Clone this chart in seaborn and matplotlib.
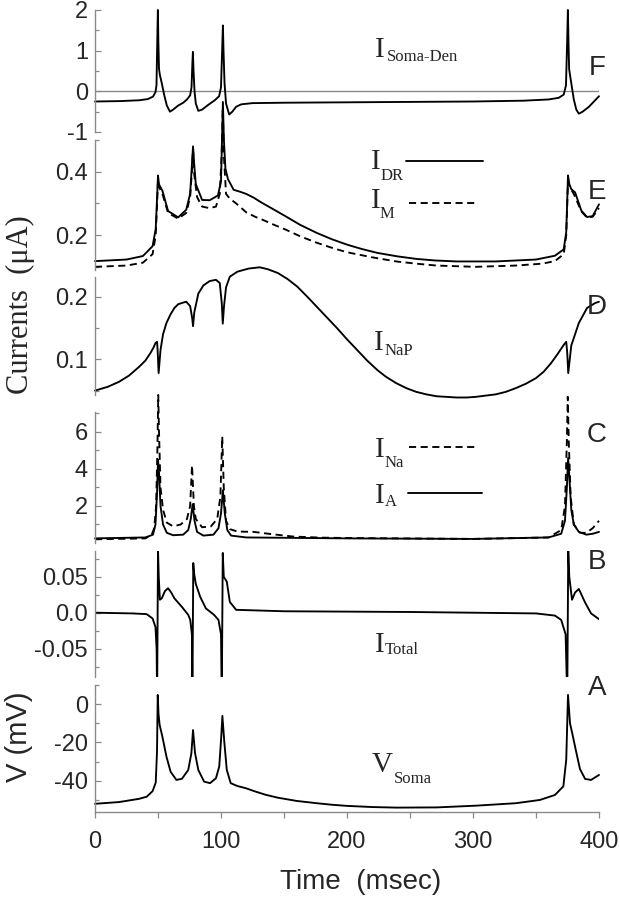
import matplotlib
matplotlib.use("Agg")
import matplotlib.pyplot as plt
from matplotlib.lines import Line2D
import seaborn as sns

# ---------------- data ----------------
# Panel A: somatic voltage (mV)
t_vsoma = [0, 19, 35, 41, 45.7, 48.2, 49.2, 49.8, 50.4, 51.3, 53.5, 56.7, 60, 64.6, 69, 74, 76.5, 77.8,
           79.4, 82, 86.6, 91.3, 96, 98.6, 100.2, 101.1, 102.7, 104.6, 107.7, 113, 120, 126, 135, 145,
           160, 176, 188, 200, 220, 239, 271, 302, 334, 353, 365, 371.7, 374, 375.4, 377, 378.9, 381.7,
           384.9, 389, 393.7, 400]
v_soma = [-52.1, -51.2, -49.5, -48.4, -45.5, -41, -25, 4.9, -5, -10.8, -17, -27.4, -35.3, -39.6, -39, -34.4,
          -25.6, -13.5, -25.6, -34.4, -40.5, -41.3, -38.7, -32.6, -17, -6.1, -20.4, -34.4, -41.3, -42.8,
          -44, -45.4, -47.3, -48.9, -50.6, -51.8, -52.6, -53.2, -53.8, -54.1, -54, -53.1, -51.8, -50.1,
          -47.5, -43, -29, 4.9, -10, -15.6, -24.3, -33.9, -39.1, -39.6, -37]

# Panel B: total current
t_itotal = [0, 30, 41, 45.7, 48, 48.9, 49.3, 50.0, 50.6, 51.5, 53, 55.5, 58, 60.5, 63, 69, 74, 75.6, 76.9,
            77.3, 78.0, 78.6, 80, 83.5, 88, 94.5, 98, 100, 100.6, 101.4, 102.2, 104.6, 107, 112, 150,
            250, 300, 350, 365, 370, 373.5, 374.8, 375.6, 376.4, 378.6, 381, 384, 389, 393.7, 400]
i_total = [0.0, -0.001, -0.002, -0.008, -0.02, -0.05, -0.12, 0.088, 0.05, 0.018, 0.02, 0.03, 0.034, 0.028,
           0.02, 0.008, -0.003, -0.01, -0.03, -0.12, 0.069, 0.055, 0.04, 0.022, 0.006, -0.003, -0.01,
           -0.03, -0.12, 0.083, 0.05, 0.043, 0.015, 0.004, 0.002, 0.001, 0.0, -0.001, -0.004, -0.01,
           -0.03, -0.12, 0.088, 0.05, 0.018, 0.028, 0.033, 0.014, -0.001, -0.009]

# Panel C: I_A (solid) and I_Na (dashed)
t_ia = [0, 40, 46, 48, 49.3, 50, 50.8, 52, 54, 57, 62, 70, 74, 76, 77.5, 79, 81, 86, 94, 98, 100,
        101.5, 103, 105, 108, 120, 200, 300, 360, 370, 373, 374.5, 375.5, 376.5, 378, 380, 384, 390, 395, 400]
i_a = [0.25, 0.3, 0.45, 1.0, 2.8, 4.5, 3.8, 2.0, 1.0, 0.55, 0.42, 0.45, 0.7, 1.3, 2.1, 1.2, 0.6, 0.4,
       0.45, 0.8, 1.6, 2.85, 1.6, 0.7, 0.4, 0.3, 0.25, 0.22, 0.3, 0.5, 1.2, 3.0, 4.6, 3.5, 1.8, 1.0,
       0.6, 0.45, 0.5, 0.6]
t_ina = [0, 40, 45, 47, 48.5, 49.5, 50.2, 50.8, 52, 54, 57, 62, 68, 73, 75.5, 77, 78.5, 80, 85, 92, 97,
         99.5, 101, 102.2, 104, 107, 113, 126, 140, 157, 180, 200, 300, 360, 370, 373, 374.5, 375.2, 376,
         377.5, 380, 385, 390, 395, 400]
i_na = [0.2, 0.25, 0.45, 0.8, 2.0, 5.0, 8.0, 6.0, 3.0, 1.8, 1.1, 0.9, 1.0, 1.3, 2.0, 4.2, 2.0, 1.3, 0.85,
        0.9, 1.3, 2.5, 5.75, 3.0, 1.2, 0.75, 0.62, 0.6, 0.48, 0.35, 0.29, 0.27, 0.22, 0.3, 0.7, 2.0, 5.5,
        7.9, 5.5, 2.5, 1.0, 0.55, 0.55, 0.8, 1.2]

# Panel D: I_NaP
t_inap = [0, 10, 19, 27, 35, 40, 44, 46.5, 48, 49.3, 49.8, 50.5, 52, 54, 56.7, 60, 63, 66, 69, 72.4,
          75.5, 77.2, 77.8, 78.8, 82, 86, 91, 96, 99, 100.6, 101.4, 102.4, 104, 107, 113, 122, 130.7,
          137, 145, 153, 160.6, 168, 176, 184, 192, 200, 208, 216, 224, 231, 239, 247, 255, 263, 271,
          279, 287, 295, 302, 310, 318, 326, 334, 342, 350, 356, 362, 367, 372, 374, 374.8, 375.6, 378,
          384, 390.5, 397, 400]
i_nap = [0.05, 0.056, 0.064, 0.074, 0.088, 0.098, 0.11, 0.119, 0.126, 0.128, 0.11, 0.078, 0.115, 0.14,
         0.158, 0.172, 0.182, 0.188, 0.19, 0.192, 0.185, 0.165, 0.153, 0.175, 0.205, 0.218, 0.225, 0.227,
         0.222, 0.19, 0.157, 0.185, 0.215, 0.232, 0.24, 0.245, 0.247, 0.244, 0.238, 0.228, 0.216, 0.201,
         0.184, 0.167, 0.15, 0.132, 0.115, 0.098, 0.083, 0.072, 0.062, 0.054, 0.048, 0.044, 0.041, 0.04,
         0.039, 0.039, 0.04, 0.042, 0.044, 0.048, 0.054, 0.061, 0.07, 0.08, 0.094, 0.108, 0.123, 0.128,
         0.11, 0.078, 0.122, 0.158, 0.182, 0.19, 0.192]

# Panel E: I_DR (solid) and I_M (dashed)
t_idr = [0, 25, 38, 45.7, 48.2, 49.4, 50, 50.8, 53.5, 58, 66, 72.4, 75.5, 76.9, 77.8, 78.8, 80, 85, 91,
         97.6, 100, 100.8, 101.5, 102.3, 103.5, 105.5, 110, 115, 120, 126, 132, 140, 151, 163, 176, 188,
         200, 212, 224, 240, 255, 270, 287, 318, 350, 365, 372, 374, 375.4, 376.5, 378, 381, 386, 390.5,
         395, 400]
i_dr = [0.118, 0.123, 0.134, 0.165, 0.22, 0.33, 0.388, 0.36, 0.34, 0.276, 0.256, 0.28, 0.33, 0.42, 0.48,
        0.42, 0.361, 0.311, 0.31, 0.325, 0.37, 0.5, 0.62, 0.5, 0.41, 0.377, 0.343, 0.337, 0.33, 0.318,
        0.303, 0.285, 0.26, 0.232, 0.207, 0.187, 0.17, 0.156, 0.144, 0.133, 0.125, 0.12, 0.117, 0.117,
        0.123, 0.135, 0.155, 0.21, 0.388, 0.36, 0.345, 0.335, 0.277, 0.257, 0.26, 0.297]
t_im = [0, 25, 38, 45.7, 48.2, 49.4, 50, 51, 53.5, 58, 66, 72.4, 75.5, 76.9, 77.8, 78.8, 81, 85, 91, 96,
        99, 100.5, 101.4, 102.3, 104, 107, 112, 120, 127, 135, 143, 151, 163, 176, 188, 200, 220, 239,
        255, 271, 302, 334, 355, 365, 372, 374, 375.4, 377, 380, 386, 390.5, 395, 400]
i_m = [0.1, 0.104, 0.113, 0.14, 0.2, 0.31, 0.375, 0.35, 0.33, 0.27, 0.252, 0.27, 0.32, 0.4, 0.47, 0.39,
       0.32, 0.29, 0.285, 0.29, 0.33, 0.45, 0.6, 0.45, 0.33, 0.315, 0.3, 0.272, 0.258, 0.245, 0.231,
       0.218, 0.196, 0.176, 0.16, 0.146, 0.13, 0.117, 0.11, 0.104, 0.1, 0.104, 0.11, 0.118, 0.14, 0.2,
       0.37, 0.35, 0.33, 0.275, 0.255, 0.258, 0.285]

# Panel F: soma-dendrite current
t_isd = [0, 20, 35, 42, 46, 48, 48.8, 49.4, 49.9, 50.3, 50.8, 51.5, 53, 55, 57, 59.5, 62, 66, 70, 73,
         75.5, 76.6, 77.3, 77.7, 78.2, 79, 80, 82, 85, 90, 95, 98.5, 100, 100.9, 101.5, 102, 102.8, 104,
         106.5, 109, 112, 116, 125, 150, 200, 250, 300, 340, 360, 368, 372, 373.8, 374.7, 375.3, 375.8,
         376.3, 377, 378.5, 380, 382, 384, 387, 392, 396, 400]
i_sd = [-0.25, -0.24, -0.22, -0.19, -0.13, -0.02, 0.15, 1.2, 2.0, 1.2, 0.55, 0.4, 0.2, -0.1, -0.35,
        -0.5, -0.45, -0.35, -0.28, -0.2, -0.1, 0.1, 0.7, 0.97, 0.5, 0.0, -0.3, -0.48, -0.45, -0.33, -0.22,
        -0.12, 0.1, 1.0, 1.62, 1.0, 0.2, -0.3, -0.57, -0.5, -0.38, -0.32, -0.29, -0.28, -0.27, -0.26,
        -0.25, -0.23, -0.2, -0.16, -0.08, 0.15, 1.2, 2.0, 1.2, 0.55, 0.4, 0.1, -0.2, -0.45, -0.55, -0.5,
        -0.38, -0.25, -0.12]

# tick values / labels per panel
f_ticks, f_labels, f_minor = [-1, 0, 1, 2], ["-1", "0", "1", "2"], [-0.5, 0.5, 1.5]
e_ticks, e_labels, e_minor = [0.2, 0.4], ["0.2", "0.4"], [0.1, 0.3, 0.5]
d_ticks, d_labels, d_minor = [0.1, 0.2], ["0.1", "0.2"], [0.05, 0.15]
c_ticks, c_labels, c_minor = [2, 4, 6], ["2", "4", "6"], [1, 3, 5, 7]
b_ticks, b_labels, b_minor = [-0.05, 0.0, 0.05], ["-0.05", "0.0", "0.05"], [-0.075, -0.025, 0.025, 0.075]
a_ticks, a_labels, a_minor = [-40, -20, 0], ["-40", "-20", "0"], [-50, -30, -10, 10]
x_ticks, x_labels, x_minor = [0, 100, 200, 300, 400], ["0", "100", "200", "300", "400"], [50, 150, 250, 350]

# ---------------- style ----------------
sns.set_style("ticks")
plt.rcParams['font.family'] = ['Liberation Sans', 'DejaVu Sans']
plt.rcParams['axes.unicode_minus'] = False
SERIF = ['Liberation Serif', 'DejaVu Serif']
GRAY = '#8a8a8a'
LW = 1.35
DASH = (0, (3.8, 2.4))

W, H = 620, 899
fig = plt.figure(figsize=(W / 100, H / 100), dpi=100)
fig.patch.set_facecolor('white')


def make_axes(top, bottom, ylim, ticks, labels, minor, bottom_axis=False):
    ax = fig.add_axes([95 / W, 1 - bottom / H, 504 / W, (bottom - top) / H])
    ax.patch.set_visible(False)
    ax.set_xlim(0, 400)
    ax.set_ylim(*ylim)
    for s in ['top', 'right']:
        ax.spines[s].set_visible(False)
    ax.spines['left'].set_color(GRAY)
    ax.spines['left'].set_linewidth(1.0)
    ax.set_yticks(ticks)
    ax.set_yticklabels(labels)
    ax.set_yticks(minor, minor=True)
    ax.tick_params(axis='y', which='major', direction='in', length=4, width=0.9, color=GRAY,
                   labelsize=17, pad=5)
    ax.tick_params(axis='y', which='minor', direction='in', length=3, width=0.9, color=GRAY)
    if bottom_axis:
        ax.spines['bottom'].set_color(GRAY)
        ax.spines['bottom'].set_linewidth(1.0)
        ax.set_xticks(x_ticks)
        ax.set_xticklabels(x_labels)
        ax.set_xticks(x_minor, minor=True)
        ax.tick_params(axis='x', which='both', direction='out', length=4, width=0.9, color=GRAY,
                       labelsize=17, pad=10)
    else:
        ax.spines['bottom'].set_visible(False)
        ax.set_xticks([])
        ax.set_xticks([], minor=True)
    ax.set_xlabel('')
    ax.set_ylabel('')
    return ax


def line(ax, t, v, dashed=False, clip=True):
    sns.lineplot(x=t, y=v, ax=ax, color='black', linewidth=LW, estimator=None, sort=False,
                 linestyle=DASH if dashed else '-', clip_on=clip)
    ax.set_xlabel('')
    ax.set_ylabel('')


axF = make_axes(10, 132, (-1, 2), f_ticks, f_labels, f_minor)
axE = make_axes(140, 270, (0.09, 0.5), e_ticks, e_labels, e_minor)
axD = make_axes(277, 395, (0.043, 0.2315), d_ticks, d_labels, d_minor)
axC = make_axes(412, 543, (0.0, 7.08), c_ticks, c_labels, c_minor)
axB = make_axes(551, 677, (-0.0893, 0.0857), b_ticks, b_labels, b_minor)
axA = make_axes(685, 812, (-56.4, 10.1), a_ticks, a_labels, a_minor, bottom_axis=True)

# F
axF.axhline(0, color=GRAY, lw=1.0, zorder=1)
line(axF, t_isd, i_sd, clip=False)
# E
line(axE, t_idr, i_dr, clip=False)
line(axE, t_im, i_m, dashed=True, clip=False)
# D
line(axD, t_inap, i_nap, clip=False)
# C
line(axC, t_ina, i_na, dashed=True, clip=False)
line(axC, t_ia, i_a, clip=False)
# B
line(axB, t_itotal, i_total, clip=True)
# A
line(axA, t_vsoma, v_soma, clip=False)


# ---------------- annotations (pixel positions) ----------------
def ftext(x, y, s, **kw):
    fig.text(x / W, 1 - y / H, s, **kw)


def sublabel(x, y, main, sub, xs, ys):
    ftext(x, y, main, family=SERIF, fontsize=21, ha='left', va='baseline')
    ftext(xs, ys, sub, family=SERIF, fontsize=12, ha='left', va='baseline')


def hseg(x1, x2, y, dashed=False):
    fig.add_artist(Line2D([x1 / W, x2 / W], [1 - y / H, 1 - y / H], transform=fig.transFigure,
                          color='black', linewidth=LW, linestyle=DASH if dashed else '-'))


sublabel(375, 57, 'I', 'Soma-Den', 387, 61)
sublabel(371, 169, 'I', 'DR', 381, 180)
hseg(406, 483, 161)
sublabel(371, 208, 'I', 'M', 380, 218)
hseg(409, 477, 203, dashed=True)
sublabel(374, 350, 'I', 'NaP', 385, 355)
sublabel(375, 457, 'I', 'Na', 385, 467)
hseg(409, 476, 447, dashed=True)
sublabel(375, 503, 'I', 'A', 385, 506)
hseg(408, 482, 493)
sublabel(375, 652, 'I', 'Total', 385, 654)
sublabel(372, 772, 'V', 'Soma', 394, 783)

for letter, yy in [('F', 68), ('E', 192), ('D', 307), ('C', 435), ('B', 562), ('A', 688)]:
    ftext(597, yy, letter, fontsize=20, ha='center', va='center')

ftext(20, 305, 'Currents  (\u03bcA)', family=SERIF, fontsize=22, rotation=90, ha='center', va='center')
ftext(19, 737, 'V (mV)', fontsize=21, rotation=90, ha='center', va='center')
ftext(361, 882, 'Time  (msec)', fontsize=20, ha='center', va='center')

fig.savefig('out.png', dpi=100, facecolor='white')
